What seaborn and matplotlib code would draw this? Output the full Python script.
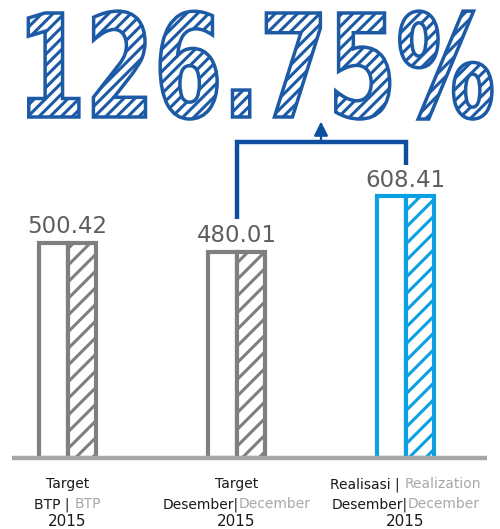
import matplotlib
matplotlib.use("Agg")
import matplotlib.pyplot as plt
import matplotlib.patheffects as pe
from matplotlib.transforms import Affine2D
import seaborn as sns
import pandas as pd

# ---- data ----
categories = ["Target BTP 2015", "Target Desember 2015", "Realisasi Desember 2015"]
values = [500.42, 480.01, 608.41]
parts = ["outline", "hatch"]
line1_id = ["Target", "Target", "Realisasi"]
line1_sep = ["", "", " | "]
line1_en = ["", "", "Realization"]
line2_id = ["BTP", "Desember", "Desember"]
line2_sep = [" | ", "|", "|"]
line2_en = ["BTP", "December", "December"]
line3 = ["2015", "2015", "2015"]
headline = "126.75%"

# ---- style ----
sns.set_theme(style="white")
plt.rcParams["font.family"] = ["DejaVu Sans"]
plt.rcParams["hatch.linewidth"] = 2.2

bar_colors = ["#7f7f7f", "#7f7f7f", "#0ba0e2"]
blue = "#1c5aa6"
bracket_blue = "#0d4e9e"

df = pd.DataFrame({
    "cat": categories * 2,
    "val": values * 2,
    "part": [parts[0]] * 3 + [parts[1]] * 3,
})

W, H = 500, 529
fig = plt.figure(figsize=(W / 100, H / 100), dpi=100)
base_px = 458
ax = fig.add_axes([0, (H - base_px) / H, 1, base_px / H])
scale = 0.43  # px per unit
spacing = 169
c0 = 67.5
sns.barplot(data=df, x="cat", y="val", hue="part", hue_order=parts,
            order=categories, dodge=True, width=0.335, legend=False, ax=ax,
            errorbar=None)
ax.set_xlim(-c0 / spacing, 2 + (W - (c0 + 2 * spacing)) / spacing)
ax.set_ylim(0, base_px / scale)
ax.axis("off")

for k, cont in enumerate(ax.containers):
    for i, patch in enumerate(cont.patches):
        patch.set_facecolor("white")
        patch.set_edgecolor(bar_colors[i])
        patch.set_linewidth(3.0)
        patch.set_zorder(2)
        if k == 1:
            patch.set_hatch("//")

# baseline
ax.axhline(0, xmin=12 / W, xmax=487 / W, color="#a6a6a6", lw=3.2,
           zorder=5, clip_on=False, solid_capstyle="butt")

# value labels
for i, v in enumerate(values):
    ax.annotate(f"{v:.2f}", xy=(i, v), xytext=(0, 7), textcoords="offset points",
                ha="center", va="baseline", fontsize=16.5, color="#5e5e5e")

# bracket + arrow
y_left = values[1] + 75
y_top = values[2] + 127
y_right = values[2] + 73
ax.plot([1, 1, 2, 2], [y_left, y_top, y_top, y_right], color=bracket_blue,
        lw=3.2, solid_joinstyle="miter", solid_capstyle="butt", zorder=3,
        clip_on=False)
ax.annotate("", xy=(1.5, y_top + 47), xytext=(1.5, y_top),
            arrowprops=dict(arrowstyle="-|>,head_length=0.7,head_width=0.35",
                            color=bracket_blue, lw=1.6, shrinkA=0, shrinkB=0))

# category labels
fs = 10
black = "#1a1a1a"
gray = "#a8a8a8"
fig.canvas.draw()
renderer = fig.canvas.get_renderer()

def mixed_line(i, dy_pt, left, right):
    t1 = ax.annotate(left, xy=(i, 0), xytext=(0, dy_pt), textcoords="offset points",
                     ha="left", va="baseline", fontsize=fs, color=black,
                     annotation_clip=False)
    t2 = ax.annotate(right, xy=(i, 0), xytext=(0, dy_pt), textcoords="offset points",
                     ha="left", va="baseline", fontsize=fs, color=gray,
                     annotation_clip=False)
    w1 = t1.get_window_extent(renderer).width if left else 0
    w2 = t2.get_window_extent(renderer).width if right else 0
    tot = w1 + w2
    start = -tot / 2
    t1.set_position((start * 72 / 100, dy_pt))
    t2.set_position(((start + w1) * 72 / 100, dy_pt))

for i in range(len(categories)):
    mixed_line(i, -30 * 0.72, line1_id[i] + line1_sep[i], line1_en[i])
    mixed_line(i, -50 * 0.72, line2_id[i] + line2_sep[i], line2_en[i])
    ax.annotate(line3[i], xy=(i, 0), xytext=(0, -68 * 0.72), textcoords="offset points",
                ha="center", va="baseline", fontsize=fs + 1, color=black,
                annotation_clip=False)


# headline: real text, hatched outline, stretched vertically by a path effect
class TallHatch(pe.PathPatchEffect):
    def __init__(self, sy, cy, **kw):
        super().__init__(**kw)
        self.sy = sy
        self.cy = cy

    def draw_path(self, renderer, gc, tpath, affine, rgbFace):
        affine = affine + Affine2D().translate(0, -self.cy).scale(1, self.sy).translate(0, self.cy)
        super().draw_path(renderer, gc, tpath, affine, rgbFace)

cx_px = 256
base_y_px = H - 117  # from bottom
title = fig.text(cx_px / W, base_y_px / H, headline, ha="center", va="baseline",
                 fontsize=70, family="DejaVu Sans", weight="bold", color=blue)
fig.canvas.draw()
tw = title.get_window_extent(fig.canvas.get_renderer()).width
fsz = 70 * 478 / tw
title.set_fontsize(fsz)
digit_h = 0.729 * fsz * 100 / 72
sy = 104 / digit_h
title.set_path_effects([TallHatch(sy, base_y_px, facecolor="white", edgecolor=blue,
                                  hatch="///", linewidth=2.5)])

fig.savefig("out.png", dpi=100)
